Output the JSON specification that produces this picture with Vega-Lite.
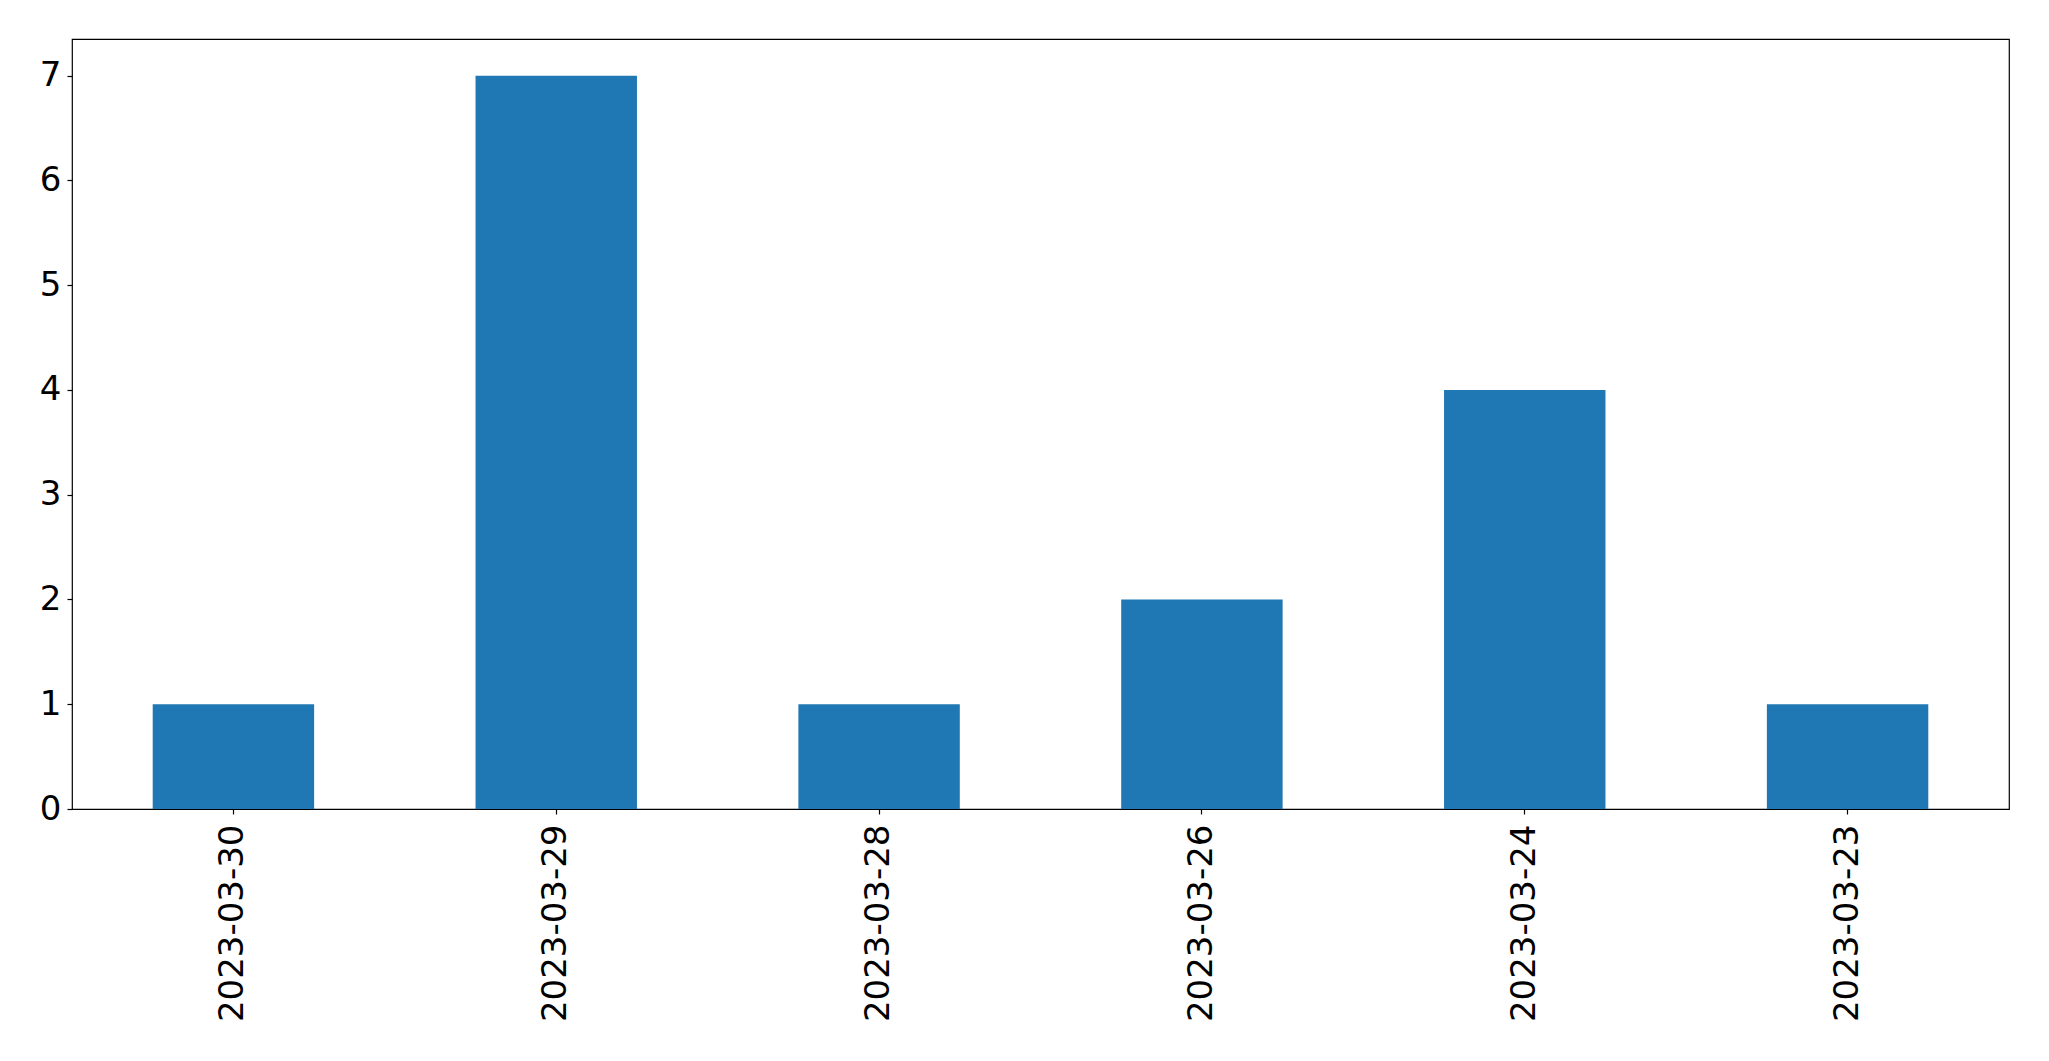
{
  "$schema": "https://vega.github.io/schema/vega-lite/v6.json",
  "autosize": {"type": "none"},
  "padding": {"left": 72, "top": 39, "right": 40, "bottom": 252},
  "width": 1937,
  "height": 770,
  "background": "white",
  "config": {
    "view": {"stroke": "black", "strokeWidth": 1.2},
    "font": "DejaVu Sans",
    "axis": {
      "labelFont": "DejaVu Sans",
      "labelFontSize": 34,
      "labelColor": "black",
      "labelLimit": 600,
      "domainColor": "black",
      "tickColor": "black",
      "tickSize": 5,
      "tickWidth": 1.2,
      "grid": false,
      "title": null
    }
  },
  "data": {
    "values": [
      {"date": "2023-03-30", "count": 1},
      {"date": "2023-03-29", "count": 7},
      {"date": "2023-03-28", "count": 1},
      {"date": "2023-03-26", "count": 2},
      {"date": "2023-03-24", "count": 4},
      {"date": "2023-03-23", "count": 1}
    ]
  },
  "mark": {"type": "bar", "color": "#1f77b4"},
  "encoding": {
    "x": {
      "field": "date",
      "type": "nominal",
      "sort": null,
      "scale": {"paddingInner": 0.5, "paddingOuter": 0.25},
      "axis": {"labelAngle": -90, "labelPadding": 10, "domain": false}
    },
    "y": {
      "field": "count",
      "type": "quantitative",
      "scale": {"domain": [0, 7.35], "nice": false, "zero": true},
      "axis": {"values": [0, 1, 2, 3, 4, 5, 6, 7], "labelPadding": 6, "domain": false}
    }
  }
}
